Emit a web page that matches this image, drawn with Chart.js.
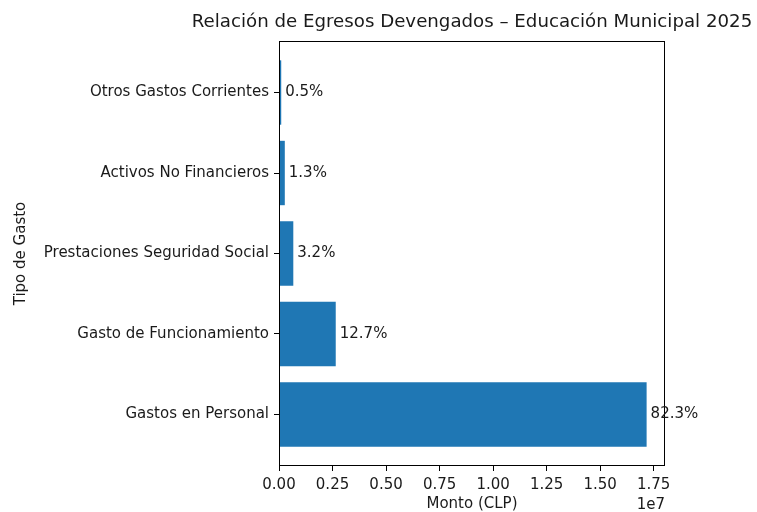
<!DOCTYPE html>
<html><head><meta charset="utf-8">
<script src="https://cdn.jsdelivr.net/npm/chart.js@4.4.0/dist/chart.umd.min.js"></script>
<style>html,body{margin:0;padding:0;background:#fff;}#wrap{width:757px;height:512px;}</style>
</head><body><div id="wrap"><canvas id="c" width="757" height="512"></canvas></div>
<script>
const categories = ['Gastos en Personal', 'Gasto de Funcionamiento', 'Prestaciones Seguridad Social', 'Activos No Financieros', 'Otros Gastos Corrientes'];
const amounts = [17170000, 2650000, 668000, 271000, 104000];
const percentLabels = ['82.3%', '12.7%', '3.2%', '1.3%', '0.5%'];
const xTickValues = [0, 2500000, 5000000, 7500000, 10000000, 12500000, 15000000, 17500000];
const titleText = 'Relación de Egresos Devengados – Educación Municipal 2025';
const xAxisTitle = 'Monto (CLP)';
const yAxisTitle = 'Tipo de Gasto';
const offsetText = '1e7';

const FONT = 'DejaVu Sans';
const TXT = '#1a1a1a';

const extras = {
  id: 'extras',
  afterDatasetsDraw(chart) {
    const ctx = chart.ctx;
    const a = chart.chartArea;
    ctx.save();
    ctx.strokeStyle = '#000';
    ctx.lineWidth = 1;
    const l = Math.round(a.left) + 0.5, t = Math.round(a.top) + 0.5;
    const r = Math.round(a.right) - 0.5, b = Math.round(a.bottom) - 0.5;
    ctx.strokeRect(l, t, r - l, b - t);
    ctx.fillStyle = TXT;
    ctx.font = '15px "' + FONT + '"';
    ctx.textAlign = 'left';
    ctx.textBaseline = 'middle';
    chart.getDatasetMeta(0).data.forEach((el, i) => {
      ctx.fillText(percentLabels[i], el.x + 4, el.y);
    });
    ctx.font = '18.2px "' + FONT + '"';
    ctx.textAlign = 'center';
    ctx.fillText(titleText, (a.left + a.right) / 2, 22);
    ctx.font = '15px "' + FONT + '"';
    ctx.textAlign = 'right';
    ctx.fillText(offsetText, a.right, 505);
    ctx.restore();
  }
};

new Chart(document.getElementById('c'), {
  type: 'bar',
  data: {
    datasets: [{
      data: amounts.map((v, i) => ({ x: v, y: i })),
      backgroundColor: '#1f77b4',
      borderWidth: 0,
      barPercentage: 1,
      categoryPercentage: 0.8
    }]
  },
  options: {
    indexAxis: 'y',
    responsive: false,
    animation: false,
    devicePixelRatio: 1,
    layout: { padding: { top: 41, right: 92, left: 0, bottom: 0 } },
    plugins: { legend: { display: false }, tooltip: { enabled: false }, title: { display: false } },
    scales: {
      x: {
        type: 'linear',
        position: 'bottom',
        min: 0,
        max: Math.max(...amounts) * 1.05,
        offset: false,
        afterBuildTicks: s => { s.ticks = xTickValues.map(v => ({ value: v })); },
        afterFit: s => { s.height = 46; },
        ticks: {
          callback: v => (v / 1e7).toFixed(2),
          font: { family: FONT, size: 15 },
          color: TXT,
          padding: 5,
          maxRotation: 0,
          autoSkip: false
        },
        grid: { drawOnChartArea: false, drawTicks: true, tickLength: 5, color: '#000', offset: false },
        border: { display: false },
        title: { display: true, text: xAxisTitle, font: { family: FONT, size: 15, lineHeight: 1 }, color: TXT, padding: { top: 0, bottom: 0 } }
      },
      y: {
        type: 'linear',
        position: 'left',
        min: -0.64,
        max: 4.64,
        offset: false,
        afterBuildTicks: s => { s.ticks = categories.map((c, i) => ({ value: i })); },
        afterFit: s => { s.width = 279; },
        ticks: {
          callback: v => categories[v],
          font: { family: FONT, size: 15 },
          color: TXT,
          padding: 5,
          autoSkip: false
        },
        grid: { drawOnChartArea: false, drawTicks: true, tickLength: 5, color: '#000', offset: false },
        border: { display: false },
        title: { display: true, text: yAxisTitle, font: { family: FONT, size: 15, lineHeight: 1 }, color: TXT, padding: { top: 14, bottom: 0 } }
      }
    }
  },
  plugins: [extras]
});
</script>
</body></html>
